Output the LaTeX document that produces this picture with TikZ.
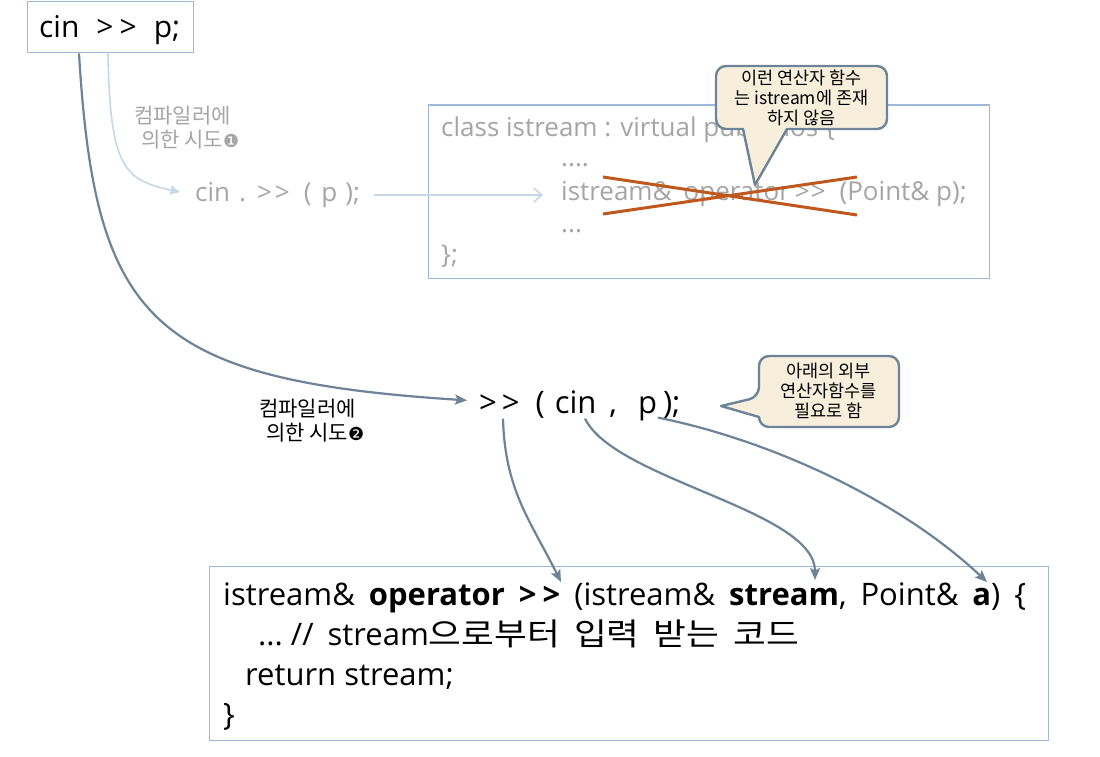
\documentclass[tikz,border=0pt]{standalone}
\usepackage{fontspec}
\setmainfont{Open Sans}[Ligatures=TeXOff]
\newfontfamily\kofont{Noto Sans CJK KR}
\newfontfamily\kowide{Noto Sans CJK KR}[FakeStretch=1.15]
\newfontfamily\symfont{DejaVu Sans}
\usetikzlibrary{arrows.meta}

\definecolor{frameblue}{HTML}{9DB9D6}
\definecolor{slate}{HTML}{6D8397}
\definecolor{paleblue}{HTML}{C6D7E7}
\definecolor{softgrey}{HTML}{A5A5A5}
\definecolor{strike}{HTML}{C0581E}
\definecolor{cream}{HTML}{F7EFDC}

% ">>" with a little air between the two signs
\newcommand{\shr}[1][3pt]{>\kern#1>}
% wider word spaces for the code lines
\newcommand{\widesp}{\spaceskip=14pt\relax}
% circled step numbers
\newcommand{\stepno}[1]{{\symfont\fontsize{18}{18}\selectfont #1}}

\tikzset{
  txt/.style={inner sep=0pt, anchor=base west},
  big/.style={font=\fontsize{30}{36}\selectfont},
  bigger/.style={font=\fontsize{31}{36}\selectfont},
  code/.style={font=\fontsize{31}{37}\selectfont},
  greycode/.style={text=softgrey, font=\fontsize{26}{30}\selectfont},
  frame/.style={draw=frameblue, line width=1.4pt, fill=white, inner sep=0pt, anchor=north west},
  link/.style={draw=slate, line width=2.2pt, -{Stealth[length=12pt,width=10pt,inset=2.5pt]}},
  paleline/.style={draw=paleblue, line width=1.6pt},
  balloon/.style={draw=slate, line width=2.4pt, fill=cream, line join=round},
  note/.style={inner sep=0pt, align=center, font=\kofont\fontsize{17.5}{20}\selectfont},
  hint/.style={inner sep=0pt, align=left, font=\kofont\fontsize{21}{24}\selectfont},
}

\begin{document}
\begin{tikzpicture}[x=1pt, y=-1pt]
\useasboundingbox (0,0) rectangle (1100,757);

% the statement as written
\node[frame, minimum width=166pt, minimum height=51pt] (cinbox) at (26.5,1) {};
\node[txt, big] (cinexpr) at (39,38) {cin\hspace{17pt}\shr[6pt]\hspace{17pt}p;};

% first attempt: member operator of istream
\node[hint, anchor=west, text=softgrey] (try1) at (134,127.5)
  {컴파일러에\\\hspace*{7pt}의한 시도\stepno{❶}};
\node[txt, greycode] (membercall) at (195,201.5)
  {cin\hspace{9pt}.\hspace{11pt}\shr[3pt]\hspace{14pt}(\hspace{10pt}p\hspace{8pt});};

\node[frame, minimum width=561pt, minimum height=173pt] (classbox) at (427.5,104.5) {};
\node[txt, greycode] (cl1) at (441,137) {class istream : virtual public ios \{};
\node[txt, greycode] (cl2) at (561,167) {....};
\node[txt, greycode] (opline) at (561,200.5)
  {istream\&\hspace{12pt}operator\hspace{5pt}\shr[1pt]\hspace{14pt}(Point\& p);};
\node[txt, greycode] (cl4) at (561,232) {...};
\node[txt, greycode] (cl5) at (441,263) {\};};

\draw[paleline, -{Stealth[length=10pt,width=9pt,inset=1.5pt]}]
  ([xshift=81.5pt]cinbox.south west) .. controls (110,170) and (125,180) ..
  ([xshift=-15pt,yshift=3pt]membercall.west);
\draw[paleline, -{Straight Barb[length=8pt,width=14pt]}, shorten <=14pt, shorten >=18pt]
  (membercall.east) -- (membercall.east -| opline.west);

% the missing member is struck out
\draw[strike, line width=3pt] (603,177) -- (857,215) (603,214) -- (857,177);

\coordinate (tip1) at (755,185);
\draw[balloon] [rounded corners=10pt] (801,66) -- (716,66) -- (716,129)
  [sharp corners] -- (743,129) -- (tip1) -- (787,129)
  [rounded corners=10pt] -- (887,129) -- (887,66) -- cycle;
\node[note] (note1) at (801.5,97.5) {이런 연산자 함수\\는 istream에 존재\\하지 않음};

% second attempt: global operator function
\node[txt, bigger] (callexpr) at (479,413)
  {\shr[5pt]\hspace{16pt}(\hspace{10pt}cin\hspace{13pt},\hspace{21pt}p\hspace{6pt});};
\node[hint, anchor=west] (try2) at (259,420.5)
  {컴파일러에\\\hspace*{7pt}의한 시도\stepno{❷}};

\draw[link] ([xshift=52.5pt]cinbox.south west) .. controls (95,320) and (150,380) ..
  ([xshift=-12pt,yshift=5pt]callexpr.west);

\coordinate (tip2) at (721,406);
\draw[balloon] [rounded corners=10pt] (829,356) -- (759,356) -- (759,397)
  [sharp corners] -- (tip2) -- (759,417)
  [rounded corners=10pt] -- (759,427) -- (899,427) -- (899,356) -- cycle;
\node[note] (note2) at (828.5,391) {아래의 외부\\연산자함수를\\필요로 함};

% the external operator function
\node[frame, minimum width=839pt, minimum height=174pt] (funcbox) at (208.5,566) {};
\node[txt, code] (fl1) at (223,605)
  {\widesp istream\& \textbf{operator \shr[6pt]} (istream\& \textbf{stream}, Point\& \textbf{a}) \{};
\node[txt, code] (fl2) at (258,645)
  {...\hspace{8pt}//\hspace{14pt}stream{\kowide\fontsize{31}{37}\selectfont\spaceskip=14pt\relax 으로부터 입력 받는 코드}};
\node[txt, code] (fl3) at (245,685) {return stream;};
\node[txt, code] (fl4) at (223,725) {\}};

\draw[link] ([xshift=24pt,yshift=2pt]callexpr.south west) .. controls (505,490) and (530,520) ..
  ([xshift=352.5pt,yshift=-16pt]funcbox.north west);
\draw[link] ([xshift=106pt,yshift=2pt]callexpr.south west) .. controls (615,480) and (815,510) ..
  ([xshift=606.5pt,yshift=-14pt]funcbox.north west);
\draw[link] ([xshift=179pt,yshift=3pt]callexpr.south west) .. controls (770,440) and (900,500) ..
  ([xshift=778.5pt,yshift=-16pt]funcbox.north west);
\end{tikzpicture}
\end{document}
